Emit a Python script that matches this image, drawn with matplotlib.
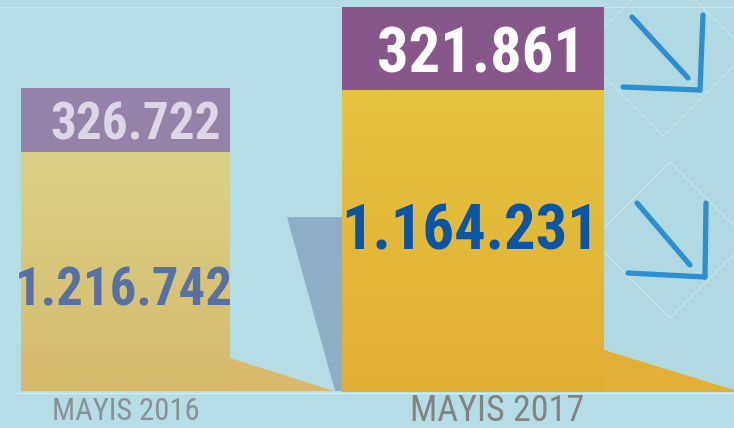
import numpy as np
import matplotlib
matplotlib.use("Agg")
import matplotlib.pyplot as plt
from matplotlib.patches import Polygon
from matplotlib.colors import LinearSegmentedColormap

# monthly figures, bottom (yellow) and top (purple) segments
periods = ["MAYIS 2016", "MAYIS 2017"]
bottom_vals = [1216742, 1164231]
top_vals = [326722, 321861]
bottom_labels = ["1.216.742", "1.164.231"]
top_labels = ["326.722", "321.861"]

W, H = 734, 428
BG = "#b4dde5"

# condensed grotesque, first installed one wins
NARROW = ["Roboto Condensed", "Archivo Narrow", "PT Sans Narrow",
          "Asap Condensed", "Sofia Sans Condensed", "DejaVu Sans"]
plt.rcParams["font.family"] = NARROW

fig = plt.figure(figsize=(W / 100, H / 100), dpi=100, facecolor=BG)

# decoration layer in pixel coordinates
bg = fig.add_axes([0, 0, 1, 1])
bg.set_xlim(0, W)
bg.set_ylim(H, 0)
bg.axis("off")
bg.set_facecolor(BG)

# slightly different band behind the arrows
bg.add_patch(Polygon([(604, 0), (734, 0), (734, 392), (604, 392)],
                     closed=True, facecolor="#b1d9e1", edgecolor="none", zorder=0))

# floor shadows
bg.add_patch(Polygon([(230, 358), (334, 391), (230, 391)], closed=True,
                     facecolor="#dbb96c", edgecolor="none", zorder=1))
bg.add_patch(Polygon([(287, 217), (342, 217), (342, 391), (335, 391)], closed=True,
                     facecolor="#8eaec6", edgecolor="none", zorder=1))
bg.add_patch(Polygon([(604, 350), (734, 390), (734, 392), (604, 392)], closed=True,
                     facecolor="#e2b038", edgecolor="none", zorder=1))
bg.plot([15, 734], [392.5, 392.5], color="#d6eef2", lw=1.0, zorder=2)
bg.plot([0, 734], [7, 7], color="#c6e6ec", lw=0.8, zorder=0.5)

# faint diamonds around the arrows
for cx, cy, r in [(663, 52, 84), (670, 240, 78)]:
    bg.add_patch(Polygon([(cx, cy - r), (cx + r, cy), (cx, cy + r), (cx - r, cy)],
                         closed=True, facecolor="none", edgecolor="white",
                         lw=0.6, alpha=0.45, zorder=1))

# down-right arrows
arrow_c = "#2d8fd2"
for diag, vert, horiz in [
    ([(632, 17), (688, 78)], [(703, 15), (700, 90)], [(623, 87), (700, 90)]),
    ([(637, 203), (690, 265)], [(706, 203), (705, 277)], [(628, 273), (705, 277)]),
]:
    for seg in (diag, vert, horiz):
        xs, ys = zip(*seg)
        bg.plot(xs, ys, color=arrow_c, lw=3.8, solid_capstyle="round", zorder=3)

# period labels
bg.text(126, 420, periods[0], ha="center", va="baseline", fontsize=22,
        color="#8a9196", zorder=3)
bg.text(497, 421, periods[1], ha="center", va="baseline", fontsize=26,
        color="#838383", zorder=3)


def bar_axes(x0, x1, ytop, ybot):
    return fig.add_axes([x0 / W, 1 - ybot / H, (x1 - x0) / W, (ybot - ytop) / H])


styles = [
    dict(box=(21, 230, 88, 391), top_c="#9482a8", grad=("#d9d286", "#d6b96d"),
         top_tc="#dcd6e6", bot_tc="#5871a3", top_fs=37, bot_fs=38,
         top_x=0.55, bot_x=0.49, bot_frac=0.44),
    dict(box=(342, 604, 7, 392), top_c="#87568b", grad=("#e5c33f", "#e2ad33"),
         top_tc="white", bot_tc="#0b55a7", top_fs=45, bot_fs=45,
         top_x=0.53, bot_x=0.49, bot_frac=0.55),
]

for i, st in enumerate(styles):
    ax = bar_axes(*st["box"])
    ax.set_facecolor("none")
    ax.axis("off")
    total = bottom_vals[i] + top_vals[i]
    ax.set_xlim(-0.5, 0.5)
    ax.set_ylim(0, total)
    low = ax.bar(0, bottom_vals[i], width=1, color=st["grad"][0], linewidth=0)[0]
    ax.bar(0, top_vals[i], bottom=bottom_vals[i], width=1, color=st["top_c"], linewidth=0)

    # vertical gradient inside the lower segment
    cmap = LinearSegmentedColormap.from_list("g", [st["grad"][1], st["grad"][0]])
    grad = np.linspace(0, 1, 256).reshape(-1, 1)
    im = ax.imshow(grad, extent=(-0.5, 0.5, 0, bottom_vals[i]), origin="lower",
                   aspect="auto", cmap=cmap, zorder=2)
    im.set_clip_path(low)

    ax.text(st["top_x"], bottom_vals[i] + top_vals[i] / 2, top_labels[i],
            transform=ax.get_yaxis_transform(), ha="center", va="center_baseline",
            fontsize=st["top_fs"], fontweight="bold",
            color=st["top_tc"], zorder=4)
    ax.text(st["bot_x"], bottom_vals[i] * st["bot_frac"], bottom_labels[i],
            transform=ax.get_yaxis_transform(), ha="center", va="center_baseline",
            fontsize=st["bot_fs"], fontweight="bold",
            color=st["bot_tc"], zorder=4, clip_on=False)

fig.savefig("out.png", dpi=100, facecolor=BG)
